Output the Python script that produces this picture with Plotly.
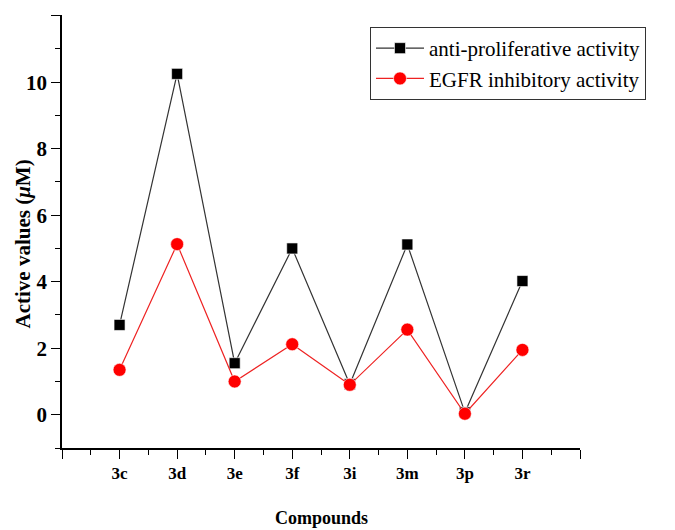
import plotly.graph_objects as go

compounds = ["3c", "3d", "3e", "3f", "3i", "3m", "3p", "3r"]
anti_proliferative = [2.70, 10.25, 1.55, 5.00, 0.92, 5.12, 0.07, 4.02]
egfr_inhibitory = [1.35, 5.13, 1.00, 2.12, 0.90, 2.56, 0.03, 1.95]
y_ticks = [0, 2, 4, 6, 8, 10, 12]

xpos = list(range(len(compounds)))

fig = go.Figure()
fig.add_trace(go.Scatter(
    x=xpos, y=anti_proliferative, mode="lines+markers",
    name="anti-proliferative activity",
    line=dict(color="#333333", width=1.2),
    marker=dict(symbol="square", size=11, color="black",
                line=dict(color="white", width=0.6)),
))
fig.add_trace(go.Scatter(
    x=xpos, y=egfr_inhibitory, mode="lines+markers",
    name="EGFR inhibitory activity",
    line=dict(color="#ee2222", width=1.2),
    marker=dict(symbol="circle", size=13, color="#ff0000",
                line=dict(color="white", width=0.6)),
))

tickvals = [-1] + xpos + [len(compounds)]
ticktext = [""] + compounds + [""]

font_family = "Liberation Serif, Times New Roman, serif"
W, H = 667, 522

fig.update_layout(
    width=W, height=H,
    margin=dict(l=54, r=95, t=7, b=82, autoexpand=False),
    paper_bgcolor="white", plot_bgcolor="white",
    font=dict(family=font_family, color="black"),
    showlegend=True,
    legend=dict(
        x=0.5946, y=0.9723, xanchor="left", yanchor="top",
        bordercolor="#333333", borderwidth=1,
        font=dict(family=font_family, size=21, color="black"),
        bgcolor="white", tracegroupgap=0, itemwidth=48,
    ),
    xaxis=dict(
        range=[-1, len(compounds)], automargin=False,
        tickmode="array", tickvals=tickvals, ticktext=ticktext,
        ticks="outside", ticklen=9, tickwidth=1.3, tickcolor="black",
        showline=True, linecolor="black", linewidth=1.5,
        showgrid=False, zeroline=False,
        tickfont=dict(family=font_family, size=17, color="black", weight="bold"),
        minor=dict(tickmode="linear", tick0=-0.5, dtick=1, ticks="outside",
                   ticklen=5, tickwidth=1.3, tickcolor="black", showgrid=False),
    ),
    yaxis=dict(
        range=[-1, 12.02], automargin=False,
        tickmode="array", tickvals=y_ticks,
        ticks="outside", ticklen=9, tickwidth=1.3, tickcolor="black",
        showline=True, linecolor="black", linewidth=1.5,
        showgrid=False, zeroline=False,
        tickfont=dict(family=font_family, size=21, color="black", weight="bold"),
        minor=dict(tickmode="linear", tick0=-1, dtick=2, ticks="outside",
                   ticklen=5, tickwidth=1.3, tickcolor="black", showgrid=False),
    ),
    annotations=[
        dict(text="<b>Compounds</b>", xref="paper", yref="paper",
             x=0.5, y=0, xanchor="center", yanchor="middle", yshift=-70,
             showarrow=False,
             font=dict(family=font_family, size=18, color="black")),
        dict(text="<b>Active values (<i>μ</i>M)</b>", xref="paper", yref="paper",
             x=0, y=0.5, xanchor="center", yanchor="middle", xshift=-40,
             yshift=-13, textangle=-90, showarrow=False,
             font=dict(family=font_family, size=21, color="black")),
    ],
)

fig.write_html("out.html")
